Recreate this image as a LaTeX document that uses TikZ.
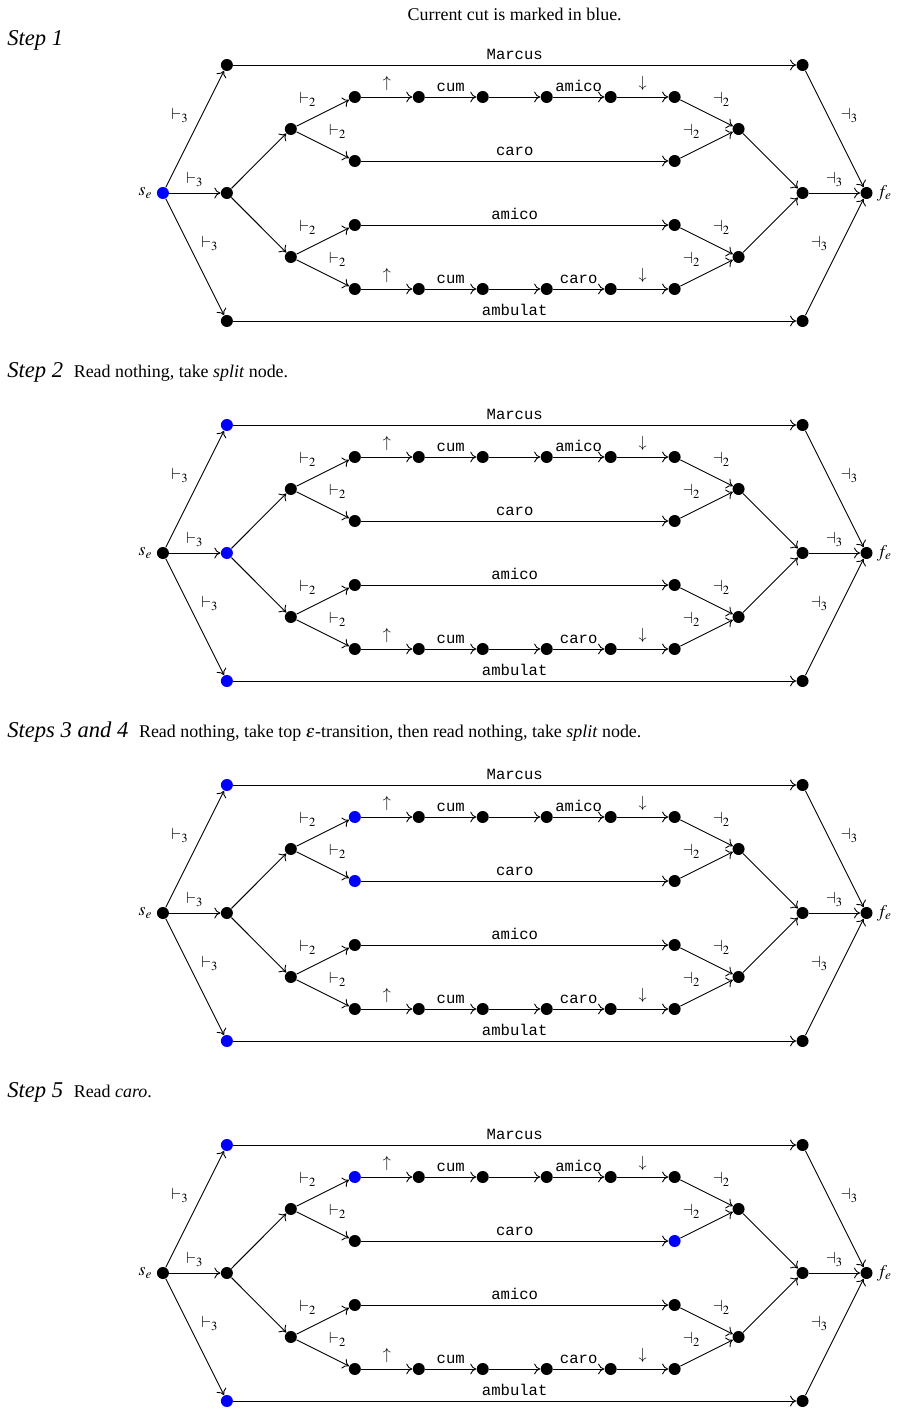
\documentclass[tikz,border=0pt]{standalone}
\usepackage{mathptmx}
\usepackage[no-math]{fontspec}
\setmainfont{Liberation Serif}
\setmonofont{Liberation Mono}
\usetikzlibrary{arrows.meta}

\tikzset{
  dot/.style={circle, fill=black, inner sep=0pt, minimum size=6.7pt},
  cut/.style={fill=blue},
  lbl/.style={auto, font=\small},
  word/.style={above, inner sep=2.8pt, font=\ttfamily\fontsize{8.7}{10}\selectfont},
  head/.style={anchor=base west, inner sep=0pt},
  stepname/.style={font=\fontsize{12.6}{15}\selectfont\itshape}
}
\newcommand{\stephead}[1]{{\fontsize{12.6}{15}\selectfont\itshape #1}\hspace{6pt}}

% one copy of the automaton; #1 = vertical shift, #2 = name prefix, #3 = cut styles
\newcommand{\cutgraph}[3]{%
\begin{scope}[shift={(0,#1)}, name prefix=#2-, #3]
  \node[dot, c-se/.try, label={[inner sep=2pt]left:$s_e$}] (se) at (0,0) {};
  \node[dot, c-mar1/.try] (mar1) at (1,4) {};
  \node[dot, c-sp/.try] (sp) at (1,0) {};
  \node[dot, c-amb1/.try] (amb1) at (1,-4) {};
  \node[dot] (su) at (2,2) {};
  \node[dot] (sl) at (2,-2) {};
  % upper branch
  \node[dot, c-t1/.try] (t1) at (3,3) {};
  \node[dot] (t2) at (4,3) {};
  \node[dot] (t3) at (5,3) {};
  \node[dot] (t4) at (6,3) {};
  \node[dot] (t5) at (7,3) {};
  \node[dot] (t6) at (8,3) {};
  \node[dot, c-ca1/.try] (ca1) at (3,1) {};
  \node[dot, c-ca2/.try] (ca2) at (8,1) {};
  % lower branch
  \node[dot] (am1) at (3,-1) {};
  \node[dot] (am2) at (8,-1) {};
  \node[dot] (b1) at (3,-3) {};
  \node[dot] (b2) at (4,-3) {};
  \node[dot] (b3) at (5,-3) {};
  \node[dot] (b4) at (6,-3) {};
  \node[dot] (b5) at (7,-3) {};
  \node[dot] (b6) at (8,-3) {};
  \node[dot] (ju) at (9,2) {};
  \node[dot] (jl) at (9,-2) {};
  \node[dot] (mar2) at (10,4) {};
  \node[dot] (jn) at (10,0) {};
  \node[dot] (amb2) at (10,-4) {};
  \node[dot, label={[inner sep=2pt]right:$f_e$}] (fe) at (11,0) {};
  % splits
  \draw[->] (se) -- node[lbl] {$\vdash_3$} (mar1);
  \draw[->] (se) -- node[lbl] {$\vdash_3$} (sp);
  \draw[->] (se) -- node[lbl] {$\vdash_3$} (amb1);
  \draw[->] (sp) -- (su);
  \draw[->] (sp) -- (sl);
  \draw[->] (su) -- node[lbl] {$\vdash_2$} (t1);
  \draw[->] (su) -- node[lbl] {$\vdash_2$} (ca1);
  \draw[->] (sl) -- node[lbl] {$\vdash_2$} (am1);
  \draw[->] (sl) -- node[lbl] {$\vdash_2$} (b1);
  % words
  \draw[->] (mar1) -- node[word] {Marcus} (mar2);
  \draw[->] (t1) -- node[lbl] {$\uparrow$} (t2);
  \draw[->] (t2) -- node[word] {cum} (t3);
  \draw[->] (t3) -- (t4);
  \draw[->] (t4) -- node[word] {amico} (t5);
  \draw[->] (t5) -- node[lbl] {$\downarrow$} (t6);
  \draw[->] (ca1) -- node[word] {caro} (ca2);
  \draw[->] (am1) -- node[word] {amico} (am2);
  \draw[->] (b1) -- node[lbl] {$\uparrow$} (b2);
  \draw[->] (b2) -- node[word] {cum} (b3);
  \draw[->] (b3) -- (b4);
  \draw[->] (b4) -- node[word] {caro} (b5);
  \draw[->] (b5) -- node[lbl] {$\downarrow$} (b6);
  \draw[->] (amb1) -- node[word] {ambulat} (amb2);
  % joins
  \draw[->] (t6) -- node[lbl] {$\dashv_2$} (ju);
  \draw[->] (ca2) -- node[lbl] {$\dashv_2$} (ju);
  \draw[->] (am2) -- node[lbl] {$\dashv_2$} (jl);
  \draw[->] (b6) -- node[lbl] {$\dashv_2$} (jl);
  \draw[->] (ju) -- (jn);
  \draw[->] (jl) -- (jn);
  \draw[->] (mar2) -- node[lbl] {$\dashv_3$} (fe);
  \draw[->] (jn) -- node[lbl] {$\dashv_3$} (fe);
  \draw[->] (amb2) -- node[lbl] {$\dashv_3$} (fe);
\end{scope}}

\begin{document}
\begin{tikzpicture}[x=35.7pt, y=17.86pt, line width=0.5pt, >={To[length=3.4pt, width=6pt]}]
\useasboundingbox (-2.547,6.031) rectangle (11.484,-38.094);

\node (title) at (5.5,5.59) {Current cut is marked in blue.};
\node[head] (h1) at (-2.44,4.62) {\stephead{Step 1}};
\node[head] (h2) at (-2.44,-5.77) {\stephead{Step 2}Read nothing, take \textit{split} node.};
\node[head] (h3) at (-2.44,-17.02) {\stephead{Steps 3 and 4}Read nothing, take top $\varepsilon$-transition, then read nothing, take \textit{split} node.};
\node[head] (h4) at (-2.44,-28.27) {\stephead{Step 5}Read \textit{caro}.};

\cutgraph{0}{p1}{c-se/.style=cut}
\cutgraph{-11.25}{p2}{c-mar1/.style=cut, c-sp/.style=cut, c-amb1/.style=cut}
\cutgraph{-22.5}{p3}{c-mar1/.style=cut, c-t1/.style=cut, c-ca1/.style=cut, c-amb1/.style=cut}
\cutgraph{-33.75}{p4}{c-mar1/.style=cut, c-t1/.style=cut, c-ca2/.style=cut, c-amb1/.style=cut}
\end{tikzpicture}
\end{document}
